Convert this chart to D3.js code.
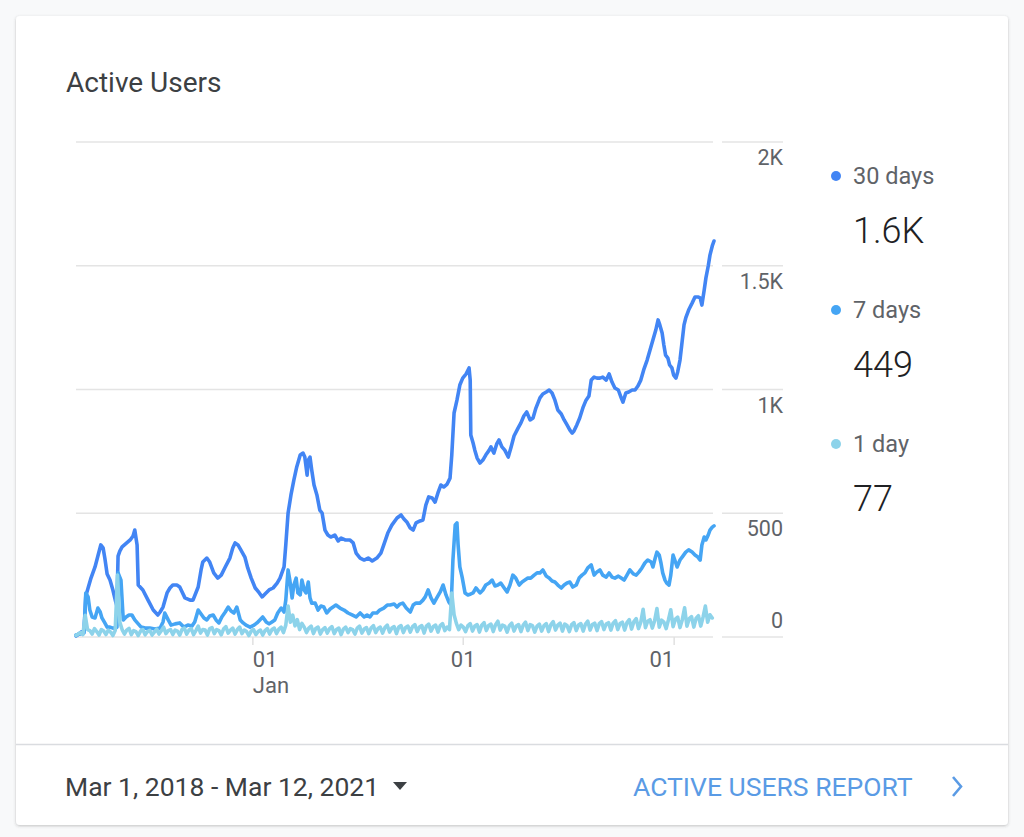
<!DOCTYPE html>
<html><head><meta charset="utf-8">
<script src="https://cdn.jsdelivr.net/npm/d3@7"></script>
<style>
html,body{margin:0;padding:0;background:#f8f9fa;}
svg{display:block;font-family:Roboto,"Noto Sans",Arial,sans-serif;}
</style></head><body>
<svg id="c" width="1024" height="837"></svg>
<script>
// ---- data ----
const title = "Active Users";
const rangeLabel = "Mar 1, 2018 - Mar 12, 2021";
const linkLabel = "ACTIVE USERS REPORT";
const startDate = new Date(2018, 2, 1);
const endDate = new Date(2021, 2, 12);

// day offsets from startDate and 30-day active users
const days30 = [0,7,14,17,21,26,33,38,43,47,50,54,59,64,69,71,73,76,80,88,94,99,102,106,108,116,125,134,142,146,151,158,163,168,175,180,189,198,203,212,217,220,227,232,239,246,252,259,267,272,276,281,286,293,298,304,311,318,323,328,335,342,349,354,361,364,368,373,378,383,389,394,397,401,403,406,409,413,418,423,427,432,437,442,449,455,460,467,475,481,486,493,500,507,514,522,529,534,541,548,557,564,569,574,580,585,590,597,602,607,612,618,623,628,633,638,644,649,652,656,661,666,671,677,682,684,685,689,692,696,701,706,711,717,720,725,730,734,739,744,750,755,760,767,772,777,782,788,793,798,805,810,816,821,826,831,836,842,847,852,857,861,864,869,874,880,885,890,894,899,904,909,914,920,925,930,935,941,946,949,954,959,965,970,975,980,985,991,996,1001,1006,1010,1013,1017,1020,1023,1027,1030,1034,1037,1041,1044,1048,1051,1055,1058,1063,1069,1074,1079,1083,1086,1090,1093,1097,1100,1104,1107];
const users30 = [4,16,28,166,198,238,283,327,372,360,319,255,230,190,141,125,327,347,364,380,392,408,432,372,210,190,149,109,89,101,121,178,198,210,210,202,158,149,149,202,271,303,319,303,259,238,250,283,319,360,380,372,352,323,279,238,198,178,162,174,190,198,218,238,283,372,501,574,634,687,735,743,727,654,715,727,675,614,574,513,501,432,412,404,412,388,400,392,392,380,339,319,311,319,307,319,339,372,420,452,481,493,477,465,440,432,461,469,473,533,566,562,545,582,614,606,618,642,735,905,957,1018,1046,1063,1087,1038,816,784,755,723,703,715,735,755,768,743,780,796,768,755,727,768,812,844,865,893,909,877,885,925,966,982,990,998,986,957,917,901,877,857,836,824,832,857,885,929,957,974,1038,1050,1046,1046,1050,1038,1063,1030,1006,998,966,949,986,990,998,998,1014,1038,1079,1119,1160,1200,1240,1281,1261,1228,1180,1139,1127,1099,1087,1058,1046,1071,1119,1180,1261,1289,1321,1349,1374,1374,1370,1341,1402,1451,1499,1543,1580,1600];

// day offsets and 7-day active users
const days7 = [0,7,14,17,21,24,28,33,38,42,45,50,54,59,64,69,71,73,78,82,87,92,97,102,108,113,120,128,137,146,151,154,160,165,172,180,187,194,201,206,212,217,222,227,232,238,243,248,253,259,264,269,274,279,285,290,295,302,309,314,319,324,330,335,340,345,350,356,361,364,368,371,375,378,382,385,389,392,396,399,403,406,409,415,420,425,430,435,441,446,451,458,465,472,479,486,493,500,505,510,515,522,527,534,540,545,552,557,562,567,573,580,585,590,597,602,606,611,616,621,626,632,637,642,647,651,654,658,661,663,666,670,675,680,685,689,694,701,706,711,717,722,727,732,737,743,748,753,758,763,769,774,779,784,789,795,800,805,810,816,821,826,831,836,842,847,852,857,862,868,873,878,883,888,894,899,904,909,914,920,925,930,935,941,946,951,956,961,967,972,977,982,987,992,998,1001,1005,1008,1012,1015,1018,1022,1025,1029,1032,1036,1039,1043,1048,1053,1058,1063,1069,1074,1079,1083,1086,1090,1093,1097,1100,1104,1107];
const users7 = [8,12,16,178,162,109,81,77,117,101,77,57,40,40,36,36,40,259,230,69,81,89,89,69,53,40,36,36,32,36,61,97,69,48,53,57,40,48,44,61,109,93,77,69,85,89,69,57,81,101,121,105,97,121,69,57,48,40,48,57,69,81,61,53,61,69,97,117,101,149,271,230,158,210,238,178,170,230,190,178,222,158,137,137,109,125,121,97,113,121,129,117,109,97,89,81,97,81,89,81,97,97,109,117,129,129,133,121,133,137,117,101,129,137,137,149,162,190,158,137,158,182,210,170,141,129,311,453,461,372,283,242,178,170,174,178,198,178,190,210,218,230,206,210,218,198,182,210,250,238,210,222,230,238,238,250,259,259,271,246,238,226,222,210,198,210,218,222,202,210,238,250,259,279,291,250,263,271,250,242,259,242,238,246,238,230,250,271,255,250,263,279,299,311,303,283,319,343,331,299,259,230,218,210,250,331,311,283,311,327,343,352,343,331,323,311,372,404,392,412,432,444,449];

// 1-day active users, one reading every 4 days from startDate
const step1 = 4;
const users1 = [6,12,18,10,88,30,26,12,34,22,
8,30,24,10,28,20,6,26,250,60,
30,12,28,35,10,26,22,6,24,30,
9,22,27,8,20,32,12,25,40,14,
26,30,10,28,24,8,30,36,12,28,
34,10,26,44,16,30,28,8,34,38,
14,30,26,9,32,42,16,28,36,12,
30,40,14,28,22,6,24,30,10,22,
28,8,26,34,12,30,36,14,32,40,
18,48,125,60,88,45,70,30,55,40,
18,36,44,14,34,40,12,30,38,16,
34,42,14,30,36,10,32,40,18,34,
30,12,36,44,16,32,38,14,36,46,
18,34,40,16,38,48,20,36,42,14,
40,46,18,38,44,20,42,50,22,40,
46,16,44,52,24,42,48,20,46,54,
26,40,30,178,90,55,30,48,40,22,
46,54,24,44,50,20,48,58,26,46,
52,22,50,64,28,48,44,20,46,56,
24,44,50,22,48,60,26,50,46,20,
44,52,24,46,54,22,50,62,28,48,
56,24,52,46,22,50,58,26,48,54,
24,52,64,28,50,56,26,54,62,30,
52,58,28,56,66,30,54,60,28,58,
70,32,62,74,34,60,112,38,64,70,
36,66,115,40,68,60,34,70,110,42,
72,80,38,70,118,44,74,82,40,76,
86,44,80,125,60,90,77];

const yTicks = [0, 500, 1000, 1500, 2000];
const yTickLabels = ["0", "500", "1K", "1.5K", "2K"];
const xTickDates = ["2019-01-01", "2020-01-01", "2021-01-01"];
const xTickLabels = ["01", "01", "01"];
const xTickSub = ["Jan", "", ""];

const seriesNames = ["30 days", "7 days", "1 day"];
const seriesTotals = ["1.6K", "449", "77"];
const seriesColors = ["#4285f4", "#45a5f4", "#8dd3ea"];

// ---- build ----
const svg = d3.select("#c");
const defs = svg.append("defs");
const f = defs.append("filter").attr("id", "sh").attr("x", "-5%").attr("y", "-5%").attr("width", "110%").attr("height", "110%");
f.append("feDropShadow").attr("dx", 0).attr("dy", 1).attr("stdDeviation", 1.5)
  .attr("flood-color", "#3c4043").attr("flood-opacity", 0.3);

svg.append("rect").attr("x", 16).attr("y", 16).attr("width", 992).attr("height", 809)
  .attr("rx", 4).attr("fill", "#fff").attr("filter", "url(#sh)");
svg.append("line").attr("x1", 16).attr("x2", 1008).attr("y1", 744.5).attr("y2", 744.5)
  .attr("stroke", "#dadce0").attr("stroke-width", 1.5);

svg.append("text").attr("x", 66).attr("y", 92).attr("font-size", 28)
  .attr("fill", "#3c4043").text(title);

const x = d3.scaleTime().domain([startDate, endDate]).range([76, 714]);
const y = d3.scaleLinear().domain([0, 2000]).range([637, 142]);
const parse = d3.timeParse("%Y-%m-%d");

// grid
const grid = svg.append("g");
grid.selectAll("line.g1").data(yTicks).join("line").attr("class", "g1")
  .attr("x1", 76).attr("x2", 713).attr("y1", d => y(d)).attr("y2", d => y(d))
  .attr("stroke", "#e4e4e4").attr("stroke-width", 1.5);
grid.selectAll("line.g2").data(yTicks).join("line").attr("class", "g2")
  .attr("x1", 722).attr("x2", 783).attr("y1", d => y(d)).attr("y2", d => y(d))
  .attr("stroke", "#e4e4e4").attr("stroke-width", 1.5);
grid.selectAll("text").data(yTicks).join("text")
  .attr("x", 783).attr("y", d => d === 0 ? y(d) - 9 : y(d) + 23)
  .attr("text-anchor", "end").attr("font-size", 21.5).attr("fill", "#5f6368")
  .text((d, i) => yTickLabels[i]);

// x axis
const xAxis = d3.axisBottom(x).tickValues(xTickDates.map(parse))
  .tickSize(8).tickFormat((d, i) => xTickLabels[i]);
const gx = svg.append("g").attr("transform", "translate(0,637)").call(xAxis);
gx.select(".domain").remove();
gx.selectAll(".tick line").attr("stroke", "#e0e0e0").attr("stroke-width", 1.5);
const anchors = ["start", "middle", "end"];
gx.selectAll(".tick text").attr("font-size", 22).attr("fill", "#5f6368")
  .attr("font-family", "Roboto, sans-serif")
  .attr("y", 14).attr("text-anchor", (d, i) => anchors[i]);
gx.selectAll(".tick").filter((d, i) => xTickSub[i]).append("text")
  .attr("y", 56).attr("fill", "#5f6368").attr("font-size", 22)
  .attr("font-family", "Roboto, sans-serif").attr("text-anchor", "start")
  .text((d, i) => "Jan");

// series
const toDate = d => d3.timeDay.offset(startDate, d);
const s30 = days30.map((d, i) => ({date: toDate(d), value: users30[i]}));
const s7 = days7.map((d, i) => ({date: toDate(d), value: users7[i]}));
const s1 = users1.map((v, i) => ({date: toDate(i * step1), value: v}));
const line = d3.line().x(d => x(d.date)).y(d => y(d.value));
[s30, s7, s1].forEach((s, i) => {
  svg.append("path").datum(s).attr("d", line).attr("fill", "none")
    .attr("stroke", seriesColors[i]).attr("stroke-width", 3.6)
    .attr("stroke-linejoin", "round").attr("stroke-linecap", "round");
});

// legend
const lg = svg.append("g");
seriesNames.forEach((n, i) => {
  const oy = 176 + i * 134;
  lg.append("circle").attr("cx", 836).attr("cy", oy).attr("r", 5).attr("fill", seriesColors[i]);
  lg.append("text").attr("x", 853).attr("y", oy + 8).attr("font-size", 23.5)
    .attr("fill", "#5f6368").text(n);
  lg.append("text").attr("x", 853).attr("y", oy + 67).attr("font-size", 36)
    .attr("font-weight", 300).attr("fill", "#202124").text(seriesTotals[i]);
});

// footer
svg.append("text").attr("x", 65).attr("y", 796).attr("font-size", 26.5)
  .attr("fill", "#3c4043").text(rangeLabel);
svg.append("path").attr("d", "M393,782 L407,782 L400,790 Z").attr("fill", "#3c4043");
svg.append("text").attr("x", 633).attr("y", 796).attr("font-size", 26.5)
  .attr("fill", "#5a9be5").text(linkLabel);
svg.append("path").attr("d", "M953,777 L961,786.5 L953,796").attr("fill", "none")
  .attr("stroke", "#5a9be5").attr("stroke-width", 2.6);
</script></body></html>
